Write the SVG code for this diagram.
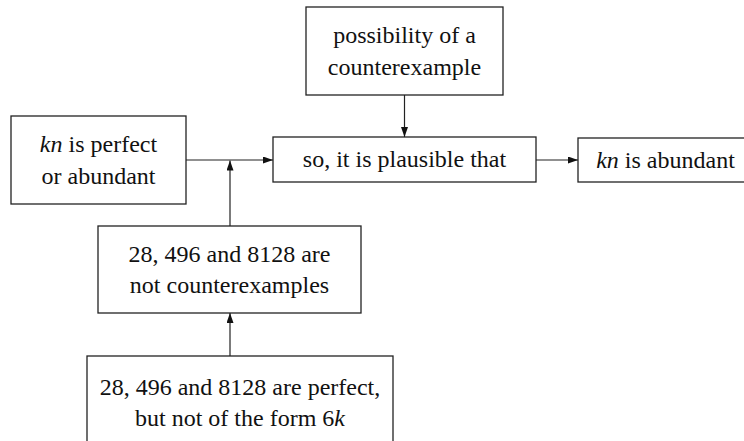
<svg xmlns="http://www.w3.org/2000/svg" width="744" height="441" viewBox="0 0 744 441">
<defs>
<marker id="arr" markerUnits="userSpaceOnUse" markerWidth="10" markerHeight="7" refX="10" refY="3.5" orient="auto">
<path d="M0,0 L10,3.5 L0,7 z" fill="#111"/>
</marker>
<style>
.box{fill:#fff;stroke:#222;stroke-width:1.3}
.t{font-size:24px;fill:#111;text-anchor:middle}
.i{font-style:italic}
.c{fill:none;stroke:#222;stroke-width:1.2;marker-end:url(#arr)}
</style>
</defs>
<rect width="744" height="441" fill="#fff"/>
<g id="connectors">
<path class="c" d="M186,160 H273"/>
<path class="c" d="M230,226 V160.5"/>
<path class="c" d="M404.5,95 V137"/>
<path class="c" d="M536,160 H578"/>
<path class="c" d="M230,356 V313"/>
</g>
<g id="n_perfect">
<rect class="box" x="11" y="116" width="175" height="88"/>
<text class="t" font-family="Liberation Serif" x="98.5" y="152"><tspan class="i">kn</tspan> is perfect</text>
<text class="t" font-family="Liberation Serif" x="98.5" y="183.5">or abundant</text>
</g>
<g id="n_possibility">
<rect class="box" x="306" y="7" width="197" height="88"/>
<text class="t" font-family="Liberation Serif" x="404.5" y="43">possibility of a</text>
<text class="t" font-family="Liberation Serif" x="404.5" y="74.5">counterexample</text>
</g>
<g id="n_plausible">
<rect class="box" x="273" y="137" width="263" height="45"/>
<text class="t" font-family="Liberation Serif" x="404.5" y="167">so, it is plausible that</text>
</g>
<g id="n_abundant">
<rect class="box" x="578" y="138" width="190" height="44"/>
<text class="t" font-family="Liberation Serif" x="665.5" y="167.5"><tspan class="i">kn</tspan> is abundant</text>
</g>
<g id="n_notcounter">
<rect class="box" x="98" y="226" width="263" height="87"/>
<text class="t" font-family="Liberation Serif" x="229.5" y="261.5">28, 496 and 8128 are</text>
<text class="t" font-family="Liberation Serif" x="229.5" y="293">not counterexamples</text>
</g>
<g id="n_perfect6k">
<rect class="box" x="87" y="356" width="306" height="95"/>
<text class="t" font-family="Liberation Serif" x="240" y="395">28, 496 and 8128 are perfect,</text>
<text class="t" font-family="Liberation Serif" x="240" y="426">but not of the form 6<tspan class="i">k</tspan></text>
</g>
</svg>
